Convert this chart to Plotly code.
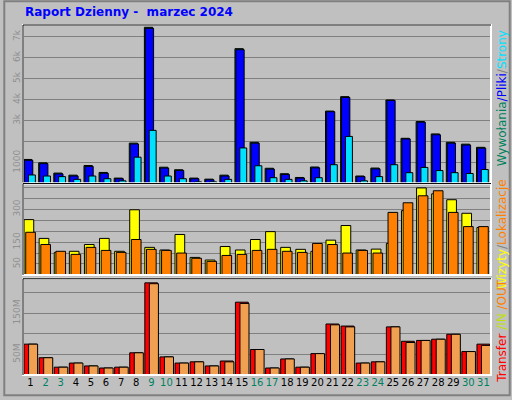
import plotly.graph_objects as go
from plotly.subplots import make_subplots

days = list(range(1, 32))
weekend = [2, 3, 9, 10, 16, 17, 23, 24, 30, 31]

# daily values
hits = [1150, 990, 500, 400, 860, 530, 260, 1930, 7460, 780, 660, 260, 210, 400, 6440,
        1970, 730, 470, 290, 790, 3460, 4150, 360, 740, 3990, 2160, 2960, 2370, 1970, 1880, 1730]
files = [1110, 950, 460, 360, 820, 490, 230, 1890, 7410, 740, 620, 230, 180, 360, 6390,
         1930, 690, 430, 260, 750, 3430, 4110, 330, 700, 3970, 2130, 2930, 2330, 1930, 1840, 1690]
pages = [410, 360, 330, 200, 360, 230, 130, 1260, 2540, 360, 230, 80, 80, 200, 1700,
         850, 280, 200, 130, 280, 900, 2250, 130, 330, 900, 520, 770, 620, 520, 480, 670]
visits = [253, 167, 103, 108, 139, 167, 108, 298, 126, 114, 185, 80, 68, 130, 114,
          162, 198, 126, 117, 108, 159, 226, 114, 118, 144, 294, 398, 371, 344, 282, 217]
sites = [195, 139, 108, 94, 126, 112, 103, 162, 117, 112, 100, 76, 62, 89, 94,
         112, 117, 108, 103, 144, 139, 100, 112, 100, 286, 330, 362, 385, 286, 221, 221]
transfer = [75, 42, 19, 29, 22, 17, 19, 54, 224, 44, 29, 32, 22, 34, 177,
            62, 17, 39, 19, 52, 124, 119, 29, 32, 117, 82, 84, 87, 99, 57, 75]
out = [75, 42, 19, 29, 22, 17, 19, 54, 222, 44, 29, 32, 22, 32, 174,
       62, 17, 39, 19, 52, 122, 117, 29, 32, 117, 79, 84, 87, 99, 57, 72]

fig = make_subplots(rows=3, cols=1, shared_xaxes=True, vertical_spacing=0)

def bars(y, color, offset, width, row):
    fig.add_trace(go.Bar(x=days, y=y, marker=dict(color=color, line=dict(color="black", width=1)),
                         offset=offset, width=width, showlegend=False), row=row, col=1)

bars(hits, "#00805c", -0.46, 0.55, 1)
bars(files, "#0000ff", -0.40, 0.55, 1)
bars(pages, "#00e0ff", -0.14, 0.46, 1)
bars(visits, "#ffff00", -0.43, 0.64, 2)
bars(sites, "#ff8000", -0.32, 0.64, 2)
bars(transfer, "#ff0000", -0.43, 0.85, 3)
bars(out, "#f0a050", -0.13, 0.6, 3)

doms = [(0.547, 1.0), (0.286, 0.547), (0.0, 0.275)]

tick_font = dict(family="DejaVu Sans", size=9, color="#909090")
grid = dict(showgrid=True, gridcolor="#808080", gridwidth=1, zeroline=False,
            tickangle=-90, tickfont=tick_font, ticks="", fixedrange=True)

fig.update_yaxes(range=[0, 7570], tickvals=[1000, 2000, 3000, 4000, 5000, 6000, 7000],
                 ticktext=["1000", "", "3k", "4k", "5k", "6k", "7k"], domain=doms[0],
                 row=1, col=1, **grid)
fig.update_yaxes(range=[0, 418], tickvals=[50, 100, 150, 200, 250, 300, 350, 400],
                 ticktext=["50", "", "150", "", "", "300", "", ""], domain=doms[1],
                 row=2, col=1, **grid)
fig.update_yaxes(range=[0, 234], tickvals=[50, 100, 150, 200],
                 ticktext=["50M", "", "150M", ""], domain=doms[2],
                 row=3, col=1, **grid)

day_text = [f"<span style='color:{'#008060' if d in weekend else 'black'}'>{d}</span>" for d in days]
fig.update_xaxes(range=[0.5, 31.5], showgrid=False, zeroline=False, ticks="", showticklabels=False)
fig.update_xaxes(showticklabels=True, tickvals=days, ticktext=day_text,
                 tickfont=dict(family="DejaVu Sans", size=10, color="black"), row=3, col=1)

# panel borders
shapes = []
for y0, y1 in doms:
    shapes.append(dict(type="rect", xref="paper", yref="paper", x0=0, x1=1, y0=y0, y1=y1,
                       line=dict(color="white", width=2)))
    shapes.append(dict(type="line", xref="paper", yref="paper", x0=0, x1=1, y0=y1, y1=y1,
                       line=dict(color="black", width=1)))
    shapes.append(dict(type="line", xref="paper", yref="paper", x0=0, x1=0, y0=y0, y1=y1,
                       line=dict(color="black", width=1)))
shapes.append(dict(type="rect", xref="paper", yref="paper", x0=-0.04, x1=1.04, y0=-0.058, y1=1.068,
                   line=dict(color="#808080", width=2)))
fig.update_layout(shapes=shapes)

fig.add_annotation(text="<b>Raport Dzienny -  marzec 2024</b>", xref="paper", yref="paper",
                   x=0, y=1.062, xanchor="left", yanchor="top", showarrow=False,
                   font=dict(family="DejaVu Sans", size=12, color="#0000ff"))
legends = [
    ("<span style='color:#00805c'>Wywołania</span><span style='color:#0000ff'>/Pliki</span>"
     "<span style='color:#808080'>/</span><span style='color:#00e0ff'>Strony</span>", 0.99),
    ("<span style='color:#ffff00'>Wizyty</span><span style='color:#808080'>/</span>"
     "<span style='color:#ff8000'>Lokalizacje</span>", 0.565),
    ("<span style='color:#ff0000'>Transfer </span><span style='color:#c0e000'>/IN </span>"
     "<span style='color:#ff8000'>/OUT </span>", 0.29),
]
for text, y in legends:
    fig.add_annotation(text=text, xref="paper", yref="paper", x=1.004, y=y, xanchor="left",
                       yanchor="top", textangle=-90, showarrow=False,
                       font=dict(family="DejaVu Sans", size=12))

fig.update_layout(width=512, height=400, autosize=False, barmode="overlay",
                  margin=dict(l=20, r=21, t=25, b=22),
                  paper_bgcolor="#c0c0c0", plot_bgcolor="#c0c0c0")

fig.write_html("out.html", config={"displayModeBar": False},
               post_script="document.body.style.margin='0';")
